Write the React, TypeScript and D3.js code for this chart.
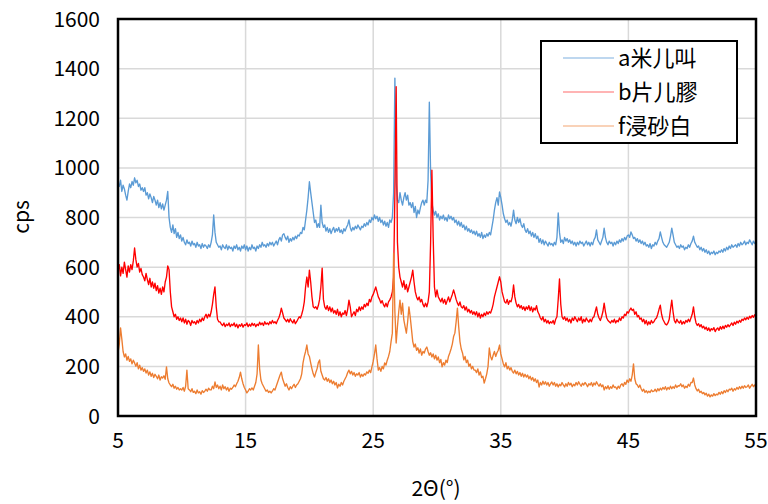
import React from 'react';
import * as d3 from 'd3';

// XRD patterns, cps sampled every 0.1° from 5.0° to 55.0° (one row = 1°)
const angleStart = 5;
const angleStep = 0.1;

const seriesA = [
  940, 925, 950, 905, 930, 915, 890, 870, 905, 935,
  920, 945, 930, 960, 940, 950, 925, 935, 910, 920,
  905, 920, 890, 900, 875, 895, 880, 860, 885, 870,
  850, 870, 840, 860, 835, 855, 830, 850, 870, 905,
  800, 760, 740, 770, 735, 755, 720, 740, 715, 730,
  705, 720, 700, 690, 710, 695, 700, 685, 705, 690,
  695, 680, 700, 685, 690, 675, 695, 680, 690, 685,
  675, 690, 680, 700, 730, 810, 740, 700, 690, 680,
  685, 670, 690, 680, 675, 690, 670, 685, 675, 680,
  665, 685, 675, 690, 670, 680, 665, 685, 675, 690,
  670, 685, 665, 680, 670, 690, 675, 680, 665, 685,
  675, 690, 680, 700, 685, 690, 680, 695, 685, 700,
  690, 700, 685, 695, 705, 690, 710, 720, 705, 730,
  735, 720, 710, 725, 700, 715, 705, 720, 710, 725,
  715, 730, 725, 740, 735, 760, 750, 790, 830, 880,
  944, 900, 860, 820, 780, 790, 760, 775, 760, 850,
  780, 760, 770, 745, 760, 740, 755, 735, 750, 760,
  740, 755, 745, 760, 740, 750, 735, 755, 745, 760,
  770, 790, 760, 745, 760, 750, 765, 755, 770, 760,
  750, 765, 760, 775, 765, 780, 770, 790, 780, 800,
  790, 810, 795, 805, 785, 800, 780, 790, 770, 785,
  765, 780, 760, 790, 780, 800, 900, 1362, 940, 870,
  860, 900, 870, 850, 880, 900, 870, 890, 850, 860,
  840, 860, 820, 845, 800, 830, 815, 840, 860, 870,
  850, 870, 860, 950, 1265, 980, 860, 830, 810, 825,
  800, 815, 790, 805, 795, 810, 790, 800, 785, 810,
  795, 805, 790, 800, 780, 790, 770, 785, 765, 780,
  760, 770, 750, 765, 745, 755, 740, 750, 735, 745,
  730, 745, 725, 735, 720, 740, 715, 730, 720, 735,
  725, 740, 730, 760, 790, 830, 860, 880, 850, 903,
  880, 850, 815, 795, 780, 790, 770, 780, 765, 790,
  830, 790, 775, 800, 780, 795, 770, 760, 775, 750,
  740, 755, 735, 745, 725, 740, 720, 735, 715, 725,
  700, 715, 695, 710, 690, 705, 695, 685, 700, 690,
  695, 685, 700, 690, 720, 818, 740, 700, 710, 695,
  720, 705, 715, 700, 710, 695, 705, 690, 700, 685,
  700, 690, 705, 695, 700, 685, 695, 705, 690, 700,
  685, 700, 690, 710, 720, 750, 710, 700, 690, 705,
  720, 757, 720, 700, 690, 705, 695, 700, 685, 700,
  690, 705, 695, 710, 700, 715, 705, 720, 710, 725,
  730, 720, 742, 730, 715, 720, 705, 715, 700, 710,
  695, 705, 690, 700, 685, 690, 680, 695, 675, 690,
  685, 700, 690, 705, 715, 742, 720, 700, 690, 685,
  680, 690, 700, 725, 757, 730, 700, 690, 680, 685,
  675, 690, 680, 685, 670, 680, 675, 690, 680, 695,
  705, 725, 700, 690, 680, 685, 670, 680, 665, 675,
  660, 670, 655, 665, 650, 660, 655, 665, 650, 660,
  655, 665, 660, 670, 660, 675, 665, 680, 670, 685,
  675, 690, 680, 685, 690, 680, 695, 685, 700, 690,
  695, 705, 690, 700, 695, 710, 700, 690, 705, 695,
  700,
];

const seriesB = [
  588, 610, 565, 600, 575, 620, 590, 560, 605, 580,
  610, 590, 625, 677, 630, 600, 615, 580, 595, 570,
  560, 545, 575, 550, 530, 555, 520, 540, 515, 535,
  505, 525, 495, 515, 490, 520, 500, 540, 560, 605,
  590, 500, 440, 420, 400, 410, 390, 400, 385, 395,
  380, 395, 375, 390, 370, 385, 380, 365, 385, 375,
  380, 370, 385, 375, 390, 380, 395, 385, 400, 410,
  395, 410, 400, 420, 450, 490, 520, 440, 390, 380,
  379, 370, 365, 375, 360, 370, 365, 375, 360, 370,
  365, 375, 360, 370, 355, 368, 362, 372, 358, 368,
  365, 375, 360, 370, 362, 374, 365, 372, 360, 370,
  365, 378, 368, 375, 365, 380, 370, 375, 368, 380,
  372, 385, 375, 380, 372, 385, 395, 410, 435, 415,
  395, 388, 380, 390, 378, 392, 382, 375, 388, 372,
  380, 390, 400, 395, 410, 430, 460, 520, 560, 520,
  588, 540, 480, 440, 435, 440, 430, 445, 470, 520,
  596, 470, 440, 430, 445, 425, 440, 420, 435, 415,
  425, 410, 430, 405, 420, 400, 415, 410, 425, 405,
  430, 467, 440, 400, 410, 420, 405, 430, 420, 440,
  425, 440, 430, 450, 440, 455, 445, 470, 460, 480,
  490, 505, 520, 500, 480, 470, 455, 465, 450, 440,
  455, 440, 460, 468, 480, 500, 560, 900, 1327, 700,
  600, 560, 540, 520, 545, 510, 530, 500, 520, 540,
  560, 588, 540, 500, 480, 468, 480, 460, 470, 450,
  440, 455, 440, 460, 500, 700, 991, 720, 520, 480,
  508, 480, 470, 460, 475, 455, 470, 450, 465, 480,
  460, 475, 490, 508, 490, 470, 455, 445, 460, 440,
  435, 445, 427, 440, 420, 430, 415, 425, 410, 420,
  407, 420, 400, 415, 395, 410, 400, 415, 405, 420,
  410, 420, 415, 430, 450, 480, 500, 520, 540, 561,
  540, 500, 480, 460, 455, 470, 450, 465, 460, 480,
  528, 480, 455, 440, 450, 435, 445, 430, 440, 425,
  440, 430, 445, 425, 440, 420, 435, 427, 445, 420,
  410, 395, 387, 400, 380, 390, 375, 385, 372, 380,
  375, 385, 370, 390, 400, 470, 552, 450, 400, 390,
  400, 385, 395, 380, 390, 375, 395, 385, 400, 390,
  380, 395, 385, 400, 375, 390, 380, 395, 385, 378,
  390, 380, 395, 400, 420, 440, 410, 395, 385, 400,
  420, 455, 420, 395, 385, 380, 375, 385, 378, 390,
  375, 385, 380, 395, 385, 400, 395, 410, 405, 420,
  415, 427, 435, 425, 430, 410, 420, 400, 405, 390,
  395, 380, 390, 372, 385, 367, 380, 370, 385, 375,
  380, 390, 395, 410, 430, 447, 410, 390, 380, 370,
  367, 375, 390, 430, 467, 420, 385, 375, 390, 380,
  375, 385, 370, 380, 372, 385, 378, 390, 380, 395,
  410, 440, 400, 375, 365, 372, 360, 368, 355, 362,
  350, 358, 345, 355, 342, 352, 347, 356, 340, 350,
  355, 345, 360, 350, 362, 352, 365, 358, 368, 360,
  367, 375, 365, 378, 370, 382, 375, 385, 378, 390,
  385, 395, 388, 398, 390, 402, 395, 405, 398, 408,
  400,
];

const seriesF = [
  254, 290, 355, 310, 260, 238, 250, 225, 240, 220,
  230, 210, 225, 214, 200, 215, 190, 205, 185, 195,
  180, 190, 173, 185, 165, 178, 160, 172, 155, 168,
  160, 150, 165, 145, 158, 153, 162, 148, 198, 150,
  133, 125, 118, 128, 112, 120, 108, 115, 105, 110,
  105, 115, 100, 120, 185, 110, 105, 98, 110, 95,
  100, 90, 105, 93, 98, 88, 102, 95, 100, 108,
  100, 112, 105, 105, 120, 110, 137, 115, 125, 110,
  120, 105, 125, 110, 118, 105, 115, 100, 112, 108,
  115, 125, 118, 130, 140, 155, 177, 150, 130, 115,
  105, 93, 100, 110, 105, 113, 105, 120, 135, 170,
  286, 190, 145, 130, 120, 110, 100, 105, 95, 100,
  93, 100, 110, 105, 120, 135, 150, 165, 177, 150,
  135, 120, 130, 115, 105, 118, 110, 120, 128, 115,
  125, 130, 140, 150, 170, 214, 240, 260, 286, 250,
  240, 214, 190, 170, 157, 175, 190, 215, 226, 180,
  165, 150, 145, 155, 140, 150, 135, 145, 130, 140,
  125, 135, 113, 128, 120, 135, 125, 140, 150, 160,
  175, 185, 170, 180, 165, 175, 160, 170, 165, 175,
  157, 168, 160, 170, 165, 178, 172, 185, 175, 198,
  220, 250, 286, 230, 185, 195, 180, 200, 190, 214,
  205, 225, 240, 260, 300, 334, 656, 420, 294, 360,
  420, 467, 410, 455, 387, 360, 334, 380, 440, 400,
  350, 300, 278, 290, 265, 275, 254, 270, 245, 260,
  254, 270, 278, 260, 245, 255, 238, 250, 230, 245,
  225, 238, 215, 228, 198, 215, 205, 225, 215, 240,
  254, 270, 290, 320, 334, 380, 435, 360, 300, 270,
  254, 226, 240, 215, 225, 200, 210, 190, 200, 185,
  185, 175, 190, 165, 178, 155, 160, 133, 150, 170,
  200, 274, 240, 226, 245, 260, 240, 255, 265, 286,
  250, 230, 210, 198, 215, 190, 200, 185, 195, 180,
  173, 185, 170, 180, 165, 175, 160, 172, 157, 168,
  157, 165, 150, 160, 145, 155, 140, 150, 135, 145,
  117, 135, 125, 140, 128, 138, 125, 135, 120, 130,
  137, 125, 135, 120, 130, 117, 128, 122, 135, 125,
  117, 130, 120, 135, 125, 132, 118, 128, 122, 135,
  125, 138, 128, 120, 132, 125, 135, 128, 118, 130,
  125, 135, 120, 133, 125, 138, 128, 120, 130, 118,
  125, 105, 118, 110, 122, 108, 118, 112, 125, 115,
  117, 108, 120, 112, 125, 130, 120, 135, 128, 145,
  135, 150, 140, 165, 210, 150, 130, 125, 115, 125,
  110, 100, 108, 95, 102, 93, 100, 95, 105, 98,
  100, 108, 98, 110, 102, 112, 105, 115, 108, 118,
  105, 115, 108, 120, 110, 118, 112, 125, 115, 122,
  121, 130, 118, 125, 112, 120, 115, 128, 120, 135,
  135, 153, 125, 110, 101, 108, 95, 100, 90, 95,
  85, 92, 80, 88, 77, 85, 80, 90, 82, 88,
  85, 95, 88, 98, 90, 102, 95, 105, 98, 108,
  105, 112, 100, 110, 105, 115, 108, 118, 110, 120,
  112, 122, 115, 118, 125, 112, 120, 128, 118, 125,
  117,
];

const seriesNames = ['a米儿叫', 'b片儿膠', 'f浸砂白'];
const seriesColors = ['#5B9BD5', '#FF0000', '#ED7D31'];
const legendColors = ['#7fb0df', '#ff6b6b', '#f4a572'];
const xTicks = [5, 15, 25, 35, 45, 55];
const yTicks = [0, 200, 400, 600, 800, 1000, 1200, 1400, 1600];

const W = 768;
const H = 504;
const plot = { left: 118, right: 756, top: 19, bottom: 416 };
const font = '"Noto Sans CJK JP", "Noto Sans", sans-serif';

export default function App() {
  const x = d3.scaleLinear().domain([5, 55]).range([plot.left, plot.right]);
  const y = d3.scaleLinear().domain([0, 1600]).range([plot.bottom, plot.top]);

  const line = d3
    .line<number>()
    .x((_, i) => x(angleStart + i * angleStep))
    .y(d => y(d));

  const all = [seriesA, seriesB, seriesF];

  return (
    <div style={{ position: 'fixed', left: 0, top: 0 }}>
      <svg width={W} height={H} style={{ display: 'block', background: '#fff' }}>
        {/* grid */}
        {yTicks.map(t => (
          <line key={'gy' + t} x1={plot.left} x2={plot.right} y1={y(t)} y2={y(t)} stroke="#d9d9d9" strokeWidth={1.5} />
        ))}
        {xTicks.map(t => (
          <line key={'gx' + t} x1={x(t)} x2={x(t)} y1={plot.top} y2={plot.bottom} stroke="#d9d9d9" strokeWidth={1.5} />
        ))}

        {/* series */}
        {all.map((s, i) => (
          <path key={seriesNames[i]} d={line(s) || ''} fill="none" stroke={seriesColors[i]} strokeWidth={1.35} strokeLinejoin="round" />
        ))}

        {/* frame */}
        <rect x={plot.left} y={plot.top} width={plot.right - plot.left} height={plot.bottom - plot.top} fill="none" stroke="#000" strokeWidth={2.5} />

        {/* y ticks */}
        {yTicks.map(t => (
          <text key={'ty' + t} x={100} y={y(t)} dy="0.36em" textAnchor="end" fontFamily={font} fontSize={21} fill="#000">
            {t}
          </text>
        ))}
        {/* x ticks */}
        {xTicks.map(t => (
          <text key={'tx' + t} x={x(t)} y={448} textAnchor="middle" fontFamily={font} fontSize={21} fill="#000">
            {t}
          </text>
        ))}

        {/* axis titles */}
        <text transform="translate(29,217) rotate(-90)" textAnchor="middle" fontFamily={font} fontSize={21} fill="#000">
          cps
        </text>
        <text x={436} y={496} textAnchor="middle" fontFamily={font} fontSize={21} fill="#000">
          2Θ(°)
        </text>

        {/* legend */}
        <rect x={541} y={41} width={196} height={102} fill="#fff" stroke="#000" strokeWidth={2} />
        {seriesNames.map((n, i) => {
          const cy = 58 + i * 34;
          return (
            <g key={'lg' + n}>
              <line x1={563} x2={614} y1={cy} y2={cy} stroke={legendColors[i]} strokeWidth={1.2} />
              <text x={618} y={cy} dy="0.36em" fontFamily={font} fontSize={22} fill="#000">
                {n}
              </text>
            </g>
          );
        })}
      </svg>
    </div>
  );
}
